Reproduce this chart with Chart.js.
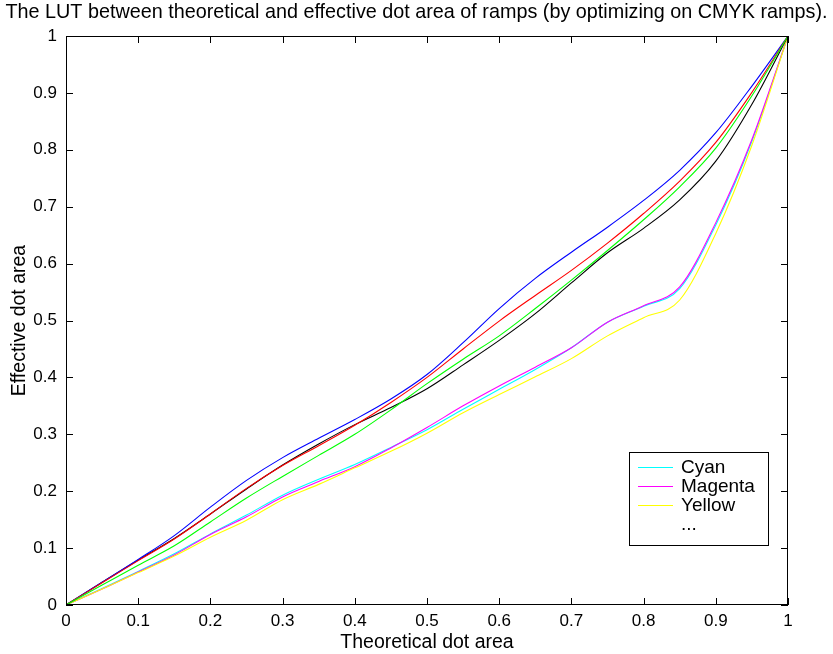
<!DOCTYPE html>
<html>
<head>
<meta charset="utf-8">
<script src="https://cdn.jsdelivr.net/npm/chart.js@4.4.1/dist/chart.umd.min.js"></script>
<style>
  html, body { margin: 0; padding: 0; background: #fff; }
  #wrap { width: 833px; height: 654px; }
</style>
</head>
<body>
<div id="wrap"><canvas id="c" width="833" height="654"></canvas></div>
<script>
// Theoretical dot area (x) sample positions
const theoretical = [0, 0.05, 0.1, 0.15, 0.2, 0.25, 0.3, 0.35, 0.4, 0.45, 0.5, 0.55, 0.6, 0.65, 0.7, 0.75, 0.8, 0.85, 0.9, 0.95, 1];

// Effective dot area per ramp
const cyan    = [0, 0.029, 0.059, 0.090, 0.125, 0.158, 0.193, 0.221, 0.247, 0.277, 0.308, 0.344, 0.379, 0.414, 0.452, 0.497, 0.525, 0.556, 0.668, 0.815, 1];
const magenta = [0, 0.028, 0.058, 0.088, 0.124, 0.155, 0.190, 0.217, 0.243, 0.276, 0.312, 0.350, 0.385, 0.418, 0.452, 0.497, 0.526, 0.559, 0.672, 0.818, 1];
const yellow  = [0, 0.028, 0.057, 0.086, 0.119, 0.149, 0.185, 0.212, 0.241, 0.270, 0.302, 0.338, 0.370, 0.401, 0.433, 0.473, 0.505, 0.536, 0.653, 0.808, 1];
const black   = [0, 0.040, 0.079, 0.117, 0.160, 0.204, 0.246, 0.283, 0.317, 0.347, 0.380, 0.422, 0.465, 0.512, 0.566, 0.619, 0.662, 0.712, 0.780, 0.880, 1];
const blue    = [0, 0.040, 0.080, 0.122, 0.172, 0.219, 0.259, 0.293, 0.326, 0.362, 0.405, 0.461, 0.521, 0.574, 0.620, 0.664, 0.711, 0.764, 0.830, 0.912, 1];
const red     = [0, 0.039, 0.078, 0.116, 0.160, 0.205, 0.245, 0.280, 0.316, 0.356, 0.400, 0.450, 0.499, 0.544, 0.588, 0.636, 0.688, 0.745, 0.813, 0.901, 1];
const green   = [0, 0.035, 0.070, 0.104, 0.146, 0.188, 0.226, 0.263, 0.300, 0.343, 0.389, 0.432, 0.473, 0.521, 0.571, 0.623, 0.677, 0.735, 0.803, 0.895, 1];

const tickValues = [0, 0.1, 0.2, 0.3, 0.4, 0.5, 0.6, 0.7, 0.8, 0.9, 1];
const tickLabels = ['0', '0.1', '0.2', '0.3', '0.4', '0.5', '0.6', '0.7', '0.8', '0.9', '1'];
const legendLabels = ['Cyan', 'Magenta', 'Yellow', '...'];

const titleText = 'The LUT between theoretical and effective dot area of ramps (by optimizing on CMYK ramps).';
const xTitle = 'Theoretical dot area';
const yTitle = 'Effective dot area';

const FONT = '"Liberation Sans", Arial, Helvetica, sans-serif';

const series = [
  { label: 'Cyan',    values: cyan,    color: '#00ffff' },
  { label: 'Magenta', values: magenta, color: '#ff00ff' },
  { label: 'Yellow',  values: yellow,  color: '#ffff00' },
  { label: '...',     values: black,   color: '#000000' },
  { label: 'Blue',    values: blue,    color: '#0000ff' },
  { label: 'Red',     values: red,     color: '#ff0000' },
  { label: 'Green',   values: green,   color: '#00ff00' }
];

const datasets = series.map((s, i) => ({
  label: s.label,
  data: theoretical.map((x, k) => ({ x: x, y: s.values[k] })),
  borderColor: s.color,
  backgroundColor: s.color,
  borderWidth: 1.1,
  pointRadius: 0,
  fill: false,
  cubicInterpolationMode: 'monotone',
  order: series.length - i
}));

// Frame, inward ticks, titles and legend box
const framePlugin = {
  id: 'frame',
  afterDatasetsDraw(chart) {
    const ctx = chart.ctx;
    const a = chart.chartArea;
    const xs = chart.scales.x, ys = chart.scales.y;
    ctx.save();
    ctx.strokeStyle = '#000';
    ctx.lineWidth = 1;
    ctx.strokeRect(Math.round(a.left) + 0.5, Math.round(a.top) + 0.5,
                   Math.round(a.right - a.left) - 1, Math.round(a.bottom - a.top) - 1);
    const tl = 7;
    ctx.beginPath();
    tickValues.forEach(v => {
      const px = Math.round(xs.getPixelForValue(v)) + 0.5;
      ctx.moveTo(px, a.bottom); ctx.lineTo(px, a.bottom - tl);
      ctx.moveTo(px, a.top); ctx.lineTo(px, a.top + tl);
      const py = Math.round(ys.getPixelForValue(v)) + 0.5;
      ctx.moveTo(a.left, py); ctx.lineTo(a.left + tl, py);
      ctx.moveTo(a.right, py); ctx.lineTo(a.right - tl, py);
    });
    ctx.stroke();

    // legend
    const lx = Math.round(a.right) - 159, ly = Math.round(a.bottom) - 153, lw = 139, lh = 93;
    ctx.fillStyle = '#fff';
    ctx.fillRect(lx, ly, lw, lh);
    ctx.strokeStyle = '#000';
    ctx.lineWidth = 1;
    ctx.strokeRect(lx + 0.5, ly + 0.5, lw, lh);
    ctx.font = '19px ' + FONT;
    ctx.textBaseline = 'middle';
    ctx.textAlign = 'left';
    legendLabels.forEach((lab, i) => {
      const yy = ly + 15 + i * 19;
      if (i < 3) {
        ctx.strokeStyle = series[i].color;
        ctx.lineWidth = 1;
        ctx.beginPath();
        ctx.moveTo(lx + 9, yy + 0.5); ctx.lineTo(lx + 44, yy + 0.5);
        ctx.stroke();
      }
      ctx.fillStyle = '#000';
      ctx.fillText(lab, lx + 52, yy + 1);
    });

    // titles
    ctx.fillStyle = '#000';
    ctx.textAlign = 'center';
    ctx.font = '19.8px ' + FONT;
    ctx.fillText(titleText, 416.5, 13);
    ctx.font = '19.5px ' + FONT;
    ctx.fillText(xTitle, (a.left + a.right) / 2, 643);
    ctx.translate(20, (a.top + a.bottom) / 2);
    ctx.rotate(-Math.PI / 2);
    ctx.fillText(yTitle, 0, 0);
    ctx.restore();
  }
};

new Chart(document.getElementById('c'), {
  type: 'line',
  data: { datasets: datasets },
  plugins: [framePlugin],
  options: {
    responsive: false,
    animation: false,
    devicePixelRatio: 1,
    layout: { padding: { top: 36, right: 45, left: 0, bottom: 0 } },
    plugins: { legend: { display: false }, tooltip: { enabled: false }, title: { display: false } },
    scales: {
      x: {
        type: 'linear', min: 0, max: 1,
        afterFit(scale) { scale.height = 49; },
        afterBuildTicks(scale) { scale.ticks = tickValues.map(v => ({ value: v })); },
        grid: { display: false, drawTicks: false },
        border: { display: false },
        ticks: {
          padding: 6, color: '#000', maxRotation: 0, autoSkip: false,
          font: { family: FONT, size: 17 },
          callback: (v) => tickLabels[Math.round(v * 10)]
        }
      },
      y: {
        type: 'linear', min: 0, max: 1,
        afterFit(scale) { scale.width = 66; },
        afterBuildTicks(scale) { scale.ticks = tickValues.map(v => ({ value: v })); },
        grid: { display: false, drawTicks: false },
        border: { display: false },
        ticks: {
          padding: 9, color: '#000', autoSkip: false,
          font: { family: FONT, size: 17 },
          callback: (v) => tickLabels[Math.round(v * 10)]
        }
      }
    }
  }
});
</script>
</body>
</html>
